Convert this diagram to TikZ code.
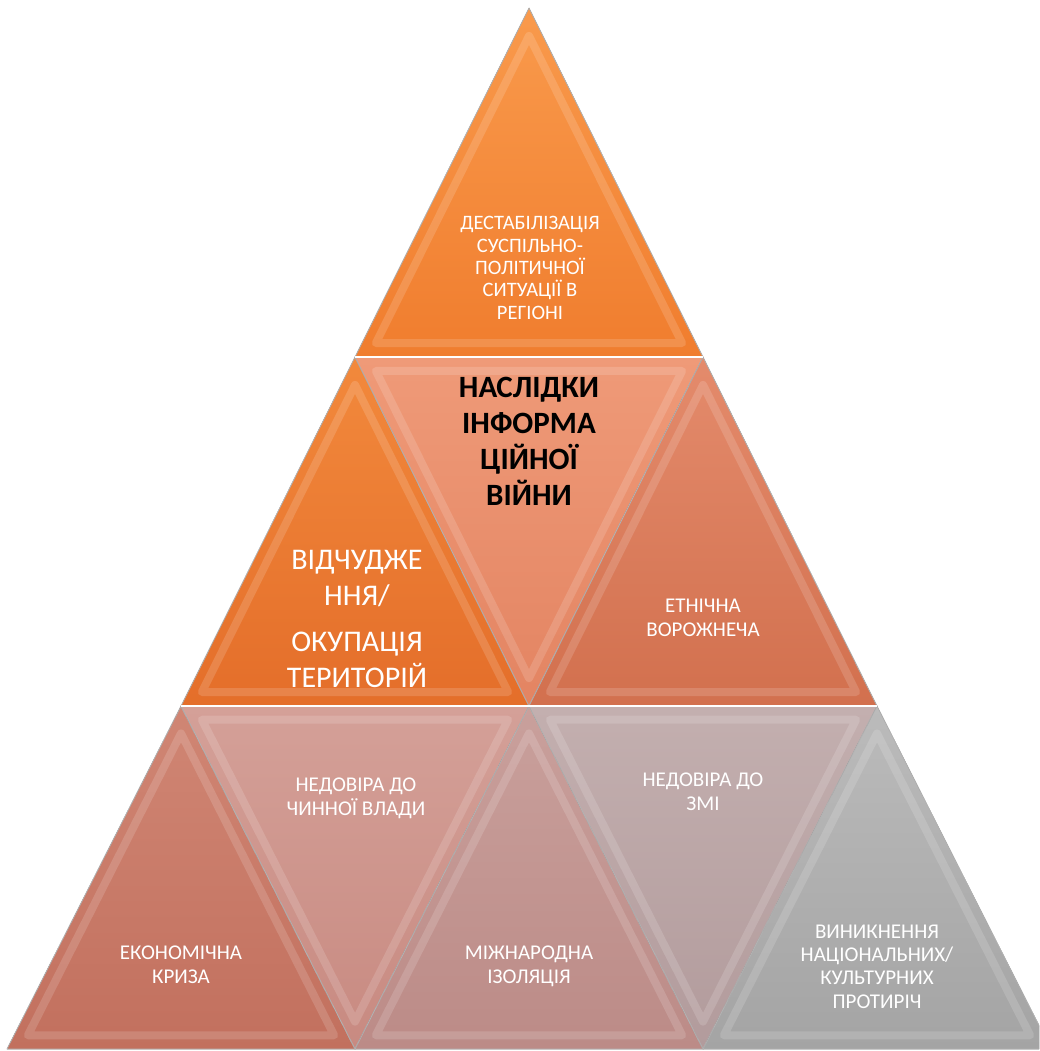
\documentclass[tikz,border=0pt]{standalone}
\usepackage{fontspec}
\setmainfont{Carlito}
\usetikzlibrary{calc}
\begin{document}
\begin{tikzpicture}[x=1pt,y=-1pt,
  lbl/.style={text=white, align=center, anchor=base, inner sep=0pt, font=\fontsize{21}{23.3}\selectfont},
  toplbl/.style={lbl, font=\fontsize{20.5}{22.3}\selectfont},
  big/.style={lbl, font=\fontsize{30}{36}\selectfont},
  head/.style={lbl, text=black, font=\bfseries\fontsize{31}{36}\selectfont},
  seam/.style={draw=gray!60, line width=0.8pt, line join=round},
  bevel/.style={draw=white, draw opacity=0.15, line width=8pt, line join=round},
  rowline/.style={draw=white, line width=2.2pt}
]
\newcommand\tri[5]{%
  \fill[top color=#4, bottom color=#5] (#1)--(#2)--(#3)--cycle;
  \coordinate (cc) at ($(#1)!2/3!($(#2)!0.5!(#3)$)$);
  \draw[bevel] ($(#1)!0.12!(cc)$)--($(#2)!0.12!(cc)$)--($(#3)!0.12!(cc)$)--cycle;
  \draw[seam] (#1)--(#2)--(#3)--cycle;
}
\definecolor{cAt}{HTML}{F99A4C}\definecolor{cAb}{HTML}{F07D2E}
\definecolor{cBt}{HTML}{F2893C}\definecolor{cBb}{HTML}{E46E2A}
\definecolor{cCt}{HTML}{EF9A78}\definecolor{cCb}{HTML}{E38462}
\definecolor{cDt}{HTML}{E48B6C}\definecolor{cDb}{HTML}{D2704E}
\definecolor{cEt}{HTML}{D08674}\definecolor{cEb}{HTML}{C2705E}
\definecolor{cFt}{HTML}{D4A098}\definecolor{cFb}{HTML}{C88A81}
\definecolor{cGt}{HTML}{C9A09C}\definecolor{cGb}{HTML}{BC8B87}
\definecolor{cHt}{HTML}{C3AFAF}\definecolor{cHb}{HTML}{B29B9C}
\definecolor{cIt}{HTML}{BBBBBB}\definecolor{cIb}{HTML}{A4A4A4}

\useasboundingbox (0,0) rectangle (1039,1051);
\fill[white] (0,0) rectangle (1039,1051);
\clip (0,0) rectangle (1039,1051);

\coordinate (A)  at (529,8);
\coordinate (B1) at (355,357);
\coordinate (C1) at (703,357);
\coordinate (B2) at (181,706);
\coordinate (M2) at (529,706);
\coordinate (C2) at (877,706);
\coordinate (B3) at (7,1049);
\coordinate (P3) at (355,1049);
\coordinate (Q3) at (703,1049);
\coordinate (C3) at (1051,1049);

\tri{A}{B1}{C1}{cAt}{cAb}
\tri{B1}{B2}{M2}{cBt}{cBb}
\tri{B1}{C1}{M2}{cCt}{cCb}
\tri{C1}{M2}{C2}{cDt}{cDb}
\tri{B2}{B3}{P3}{cEt}{cEb}
\tri{B2}{M2}{P3}{cFt}{cFb}
\tri{M2}{P3}{Q3}{cGt}{cGb}
\tri{M2}{C2}{Q3}{cHt}{cHb}
\tri{C2}{Q3}{C3}{cIt}{cIb}

\draw[rowline] (B1) -- (C1);
\draw[rowline] (B2) -- (C2);

% nodes are placed at the baseline of their last line
\node[toplbl] (t1) at (530,319) {ДЕСТАБІЛІЗАЦІЯ\\СУСПІЛЬНО-\\ПОЛІТИЧНОЇ\\СИТУАЦІЇ В\\РЕГІОНІ};
\node[head] (t3) at (529,505) {НАСЛІДКИ\\ІНФОРМА\\ЦІЙНОЇ\\ВІЙНИ};
\node[big] (t2) at (357,687) {ВІДЧУДЖЕ\\ННЯ/\\[10pt]ОКУПАЦІЯ\\ТЕРИТОРІЙ};
\node[lbl] (t4) at (703,636) {ЕТНІЧНА\\ВОРОЖНЕЧА};
\node[lbl] (t5) at (181,983) {ЕКОНОМІЧНА\\КРИЗА};
\node[lbl] (t6) at (356,815) {НЕДОВІРА ДО\\ЧИННОЇ ВЛАДИ};
\node[lbl] (t7) at (529,983) {МІЖНАРОДНА\\ІЗОЛЯЦІЯ};
\node[lbl] (t8) at (703,810) {НЕДОВІРА ДО\\ЗМІ};
\node[lbl] (t9) at (877,1008) {ВИНИКНЕННЯ\\НАЦІОНАЛЬНИХ/\\КУЛЬТУРНИХ\\ПРОТИРІЧ};
\end{tikzpicture}
\end{document}
